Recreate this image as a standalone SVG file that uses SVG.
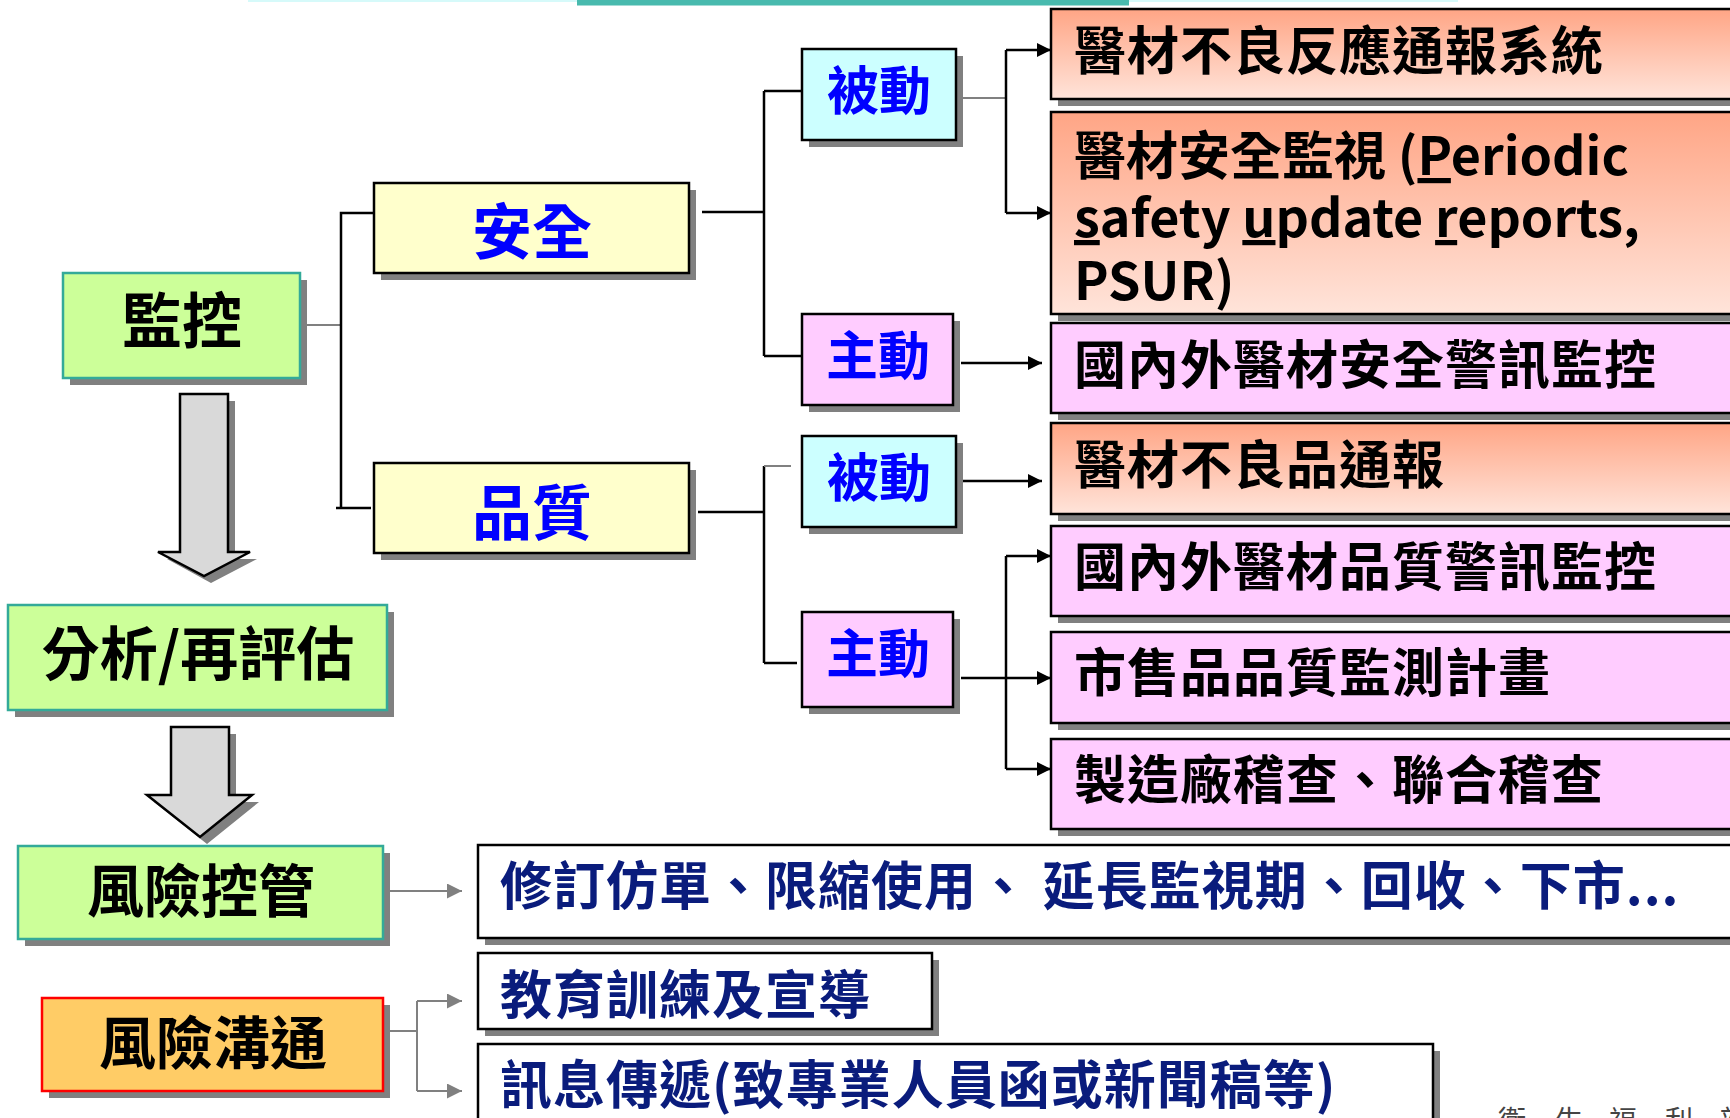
<svg xmlns="http://www.w3.org/2000/svg" width="1730" height="1118" viewBox="0 0 1730 1118">
<style>
.sh{fill:#808080}
.green{fill:#CCFF99;stroke:#33AA99;stroke-width:2.5}
.yellow{fill:#FFFFCC;stroke:#000;stroke-width:2.5}
.cyan{fill:#CCFFFF;stroke:#000;stroke-width:2.5}
.pink{fill:#FFCCFF;stroke:#000;stroke-width:2.5}
.salmon{fill:url(#sg);stroke:#000;stroke-width:2.5}
.white{fill:#FFFFFF;stroke:#000;stroke-width:2.5}
.orange{fill:#FFCC66;stroke:#FF0000;stroke-width:2.5}
.big{fill:#D9D9D9;stroke:#000;stroke-width:2.5}
text{font-family:"Noto Sans CJK TC","Noto Sans",sans-serif;font-weight:bold}
.lbl{font-size:60px;fill:#000;text-anchor:middle}
.blue{font-size:60px;fill:#0000FF;text-anchor:middle}
.bs{font-size:52px;fill:#0000FF;text-anchor:middle}
.rt{font-size:52px;fill:#000;letter-spacing:1px}
.lat{letter-spacing:0}
.nv{font-size:52px;fill:#0A1C7C;letter-spacing:1px}
.u{text-decoration:underline}
.cb{fill:none;stroke:#000;stroke-width:2.5}
.cg{fill:none;stroke:#808080;stroke-width:2}
</style>
<defs>
<linearGradient id="sg" x1="0" y1="0" x2="0" y2="1">
<stop offset="0" stop-color="#FFA585"/>
<stop offset="1" stop-color="#FFE4DA"/>
</linearGradient>
<marker id="ab" markerUnits="userSpaceOnUse" markerWidth="14" markerHeight="14" refX="14" refY="7" orient="auto">
<path d="M0,0 L14,7 L0,14 z" fill="#000"/>
</marker>
<marker id="ag" markerUnits="userSpaceOnUse" markerWidth="15" markerHeight="15" refX="15" refY="7.5" orient="auto">
<path d="M0,0 L15,7.5 L0,15 z" fill="#808080"/>
</marker>
</defs>

<rect x="248" y="0" width="1210" height="2" fill="#D6FAFA"/>
<rect x="577" y="0" width="552" height="5.5" fill="#48BAAE"/>

<g id="connectors">
<path class="cg" d="M300,325 H341"/>
<path class="cb" d="M374,213 H341 V508 M336,508 H371"/>
<path class="cb" d="M702,212 H764 M764,91 V356 M764,91 H802 M764,356 H802"/>
<path class="cg" d="M956,98 H1006"/>
<path class="cb" d="M1006,50 V213"/>
<path class="cb" d="M1006,50 H1051" marker-end="url(#ab)"/>
<path class="cb" d="M1006,213 H1051" marker-end="url(#ab)"/>
<path class="cb" d="M961,363 H1042" marker-end="url(#ab)"/>
<path class="cb" d="M698,512 H764 M764,466 V663 M764,663 H797"/>
<path class="cg" d="M764,466 H791"/>
<path class="cb" d="M961,481 H1042" marker-end="url(#ab)"/>
<path class="cb" d="M961,678 H1051" marker-end="url(#ab)"/>
<path class="cb" d="M1006,556 V769"/>
<path class="cb" d="M1006,556 H1051" marker-end="url(#ab)"/>
<path class="cb" d="M1006,769 H1051" marker-end="url(#ab)"/>
<path class="cg" d="M387,891 H462" marker-end="url(#ag)"/>
<path class="cg" d="M387,1031 H417 M417,1001 V1091"/>
<path class="cg" d="M417,1001 H462" marker-end="url(#ag)"/>
<path class="cg" d="M417,1091 H462" marker-end="url(#ag)"/>
</g>

<g id="arrow1">
<path class="sh" d="M187,401 H235 V559 H257 L211,583 L167,559 H187 z"/>
<path class="big" d="M180,394 H228 V552 H250 L204,576 L158,552 H180 z"/>
</g>
<g id="arrow2">
<path class="sh" d="M178,734 H236 V802 H259 L207,844 L154,802 H178 z"/>
<path class="big" d="M171,727 H229 V795 H252 L200,837 L147,795 H171 z"/>
</g>

<g id="n-jiankong">
<rect class="sh" x="70" y="280" width="237" height="105"/>
<rect class="green" x="63" y="273" width="237" height="105"/>
<text class="lbl" x="182" y="343">監控</text>
</g>
<g id="n-anquan">
<rect class="sh" x="381" y="190" width="315" height="90"/>
<rect class="yellow" x="374" y="183" width="315" height="90"/>
<text class="blue" x="532" y="254">安全</text>
</g>
<g id="n-pinzhi">
<rect class="sh" x="381" y="470" width="315" height="90"/>
<rect class="yellow" x="374" y="463" width="315" height="90"/>
<text class="blue" x="532" y="535">品質</text>
</g>
<g id="n-fenxi">
<rect class="sh" x="15" y="612" width="379" height="105"/>
<rect class="green" x="8" y="605" width="379" height="105"/>
<text class="lbl" x="198" y="675" style="font-size:58px">分析/再評估</text>
</g>
<g id="n-fengxian-kongguan">
<rect class="sh" x="25" y="853" width="365" height="93"/>
<rect class="green" x="18" y="846" width="365" height="93"/>
<text class="lbl" x="201" y="912" style="font-size:57px">風險控管</text>
</g>
<g id="n-fengxian-goutong">
<rect class="sh" x="49" y="1005" width="341" height="93"/>
<rect class="orange" x="42" y="998" width="341" height="93"/>
<text class="lbl" x="213" y="1064" style="font-size:57px">風險溝通</text>
</g>

<g id="n-beidong1">
<rect class="sh" x="809" y="56" width="154" height="91"/>
<rect class="cyan" x="802" y="49" width="154" height="91"/>
<text class="bs" x="879" y="110">被動</text>
</g>
<g id="n-zhudong1">
<rect class="sh" x="809" y="321" width="151" height="91"/>
<rect class="pink" x="802" y="314" width="151" height="91"/>
<text class="bs" x="878" y="375">主動</text>
</g>
<g id="n-beidong2">
<rect class="sh" x="809" y="443" width="154" height="91"/>
<rect class="cyan" x="802" y="436" width="154" height="91"/>
<text class="bs" x="879" y="497">被動</text>
</g>
<g id="n-zhudong2">
<rect class="sh" x="809" y="619" width="151" height="95"/>
<rect class="pink" x="802" y="612" width="151" height="95"/>
<text class="bs" x="878" y="673">主動</text>
</g>

<g id="n-r1">
<rect class="sh" x="1058" y="16" width="700" height="90"/>
<rect class="salmon" x="1051" y="9" width="700" height="90"/>
<text class="rt" x="1074" y="70">醫材不良反應通報系統</text>
</g>
<g id="n-r2">
<rect class="sh" x="1058" y="119" width="700" height="202"/>
<rect class="salmon" x="1051" y="112" width="700" height="202"/>
<text class="rt lat" x="1074" y="175">醫材安全監視 (<tspan class="u">P</tspan>eriodic</text>
<text class="rt lat" x="1074" y="237"><tspan class="u">s</tspan>afety <tspan class="u">u</tspan>pdate <tspan class="u">r</tspan>eports,</text>
<text class="rt lat" x="1074" y="300">PSUR)</text>
</g>
<g id="n-r3">
<rect class="sh" x="1058" y="330" width="700" height="90"/>
<rect class="pink" x="1051" y="323" width="700" height="90"/>
<text class="rt" x="1074" y="384">國內外醫材安全警訊監控</text>
</g>
<g id="n-r4">
<rect class="sh" x="1058" y="430" width="700" height="91"/>
<rect class="salmon" x="1051" y="423" width="700" height="91"/>
<text class="rt" x="1074" y="484">醫材不良品通報</text>
</g>
<g id="n-r5">
<rect class="sh" x="1058" y="533" width="700" height="90"/>
<rect class="pink" x="1051" y="526" width="700" height="90"/>
<text class="rt" x="1074" y="586">國內外醫材品質警訊監控</text>
</g>
<g id="n-r6">
<rect class="sh" x="1058" y="639" width="700" height="91"/>
<rect class="pink" x="1051" y="632" width="700" height="91"/>
<text class="rt" x="1074" y="692">市售品品質監測計畫</text>
</g>
<g id="n-r7">
<rect class="sh" x="1058" y="746" width="700" height="90"/>
<rect class="pink" x="1051" y="739" width="700" height="90"/>
<text class="rt" x="1074" y="799">製造廠稽查、聯合稽查</text>
</g>

<g id="n-b1">
<rect class="sh" x="485" y="852" width="1300" height="93"/>
<rect class="white" x="478" y="845" width="1300" height="93"/>
<text class="nv" x="500" y="905">修訂仿單、限縮使用、 延長監視期、回收、下市...</text>
</g>
<g id="n-b2">
<rect class="sh" x="485" y="960" width="454" height="76"/>
<rect class="white" x="478" y="953" width="454" height="76"/>
<text class="nv" x="500" y="1014">教育訓練及宣導</text>
</g>
<g id="n-b3">
<rect class="sh" x="485" y="1051" width="955" height="100"/>
<rect class="white" x="478" y="1044" width="955" height="100"/>
<text class="nv" x="500" y="1104">訊息傳遞(致專業人員函或新聞稿等)</text>
</g>

<text x="1498 1555 1609 1665 1719" y="1131" style="font-size:28px;fill:#444;font-weight:normal">衛生福利部</text>
</svg>
